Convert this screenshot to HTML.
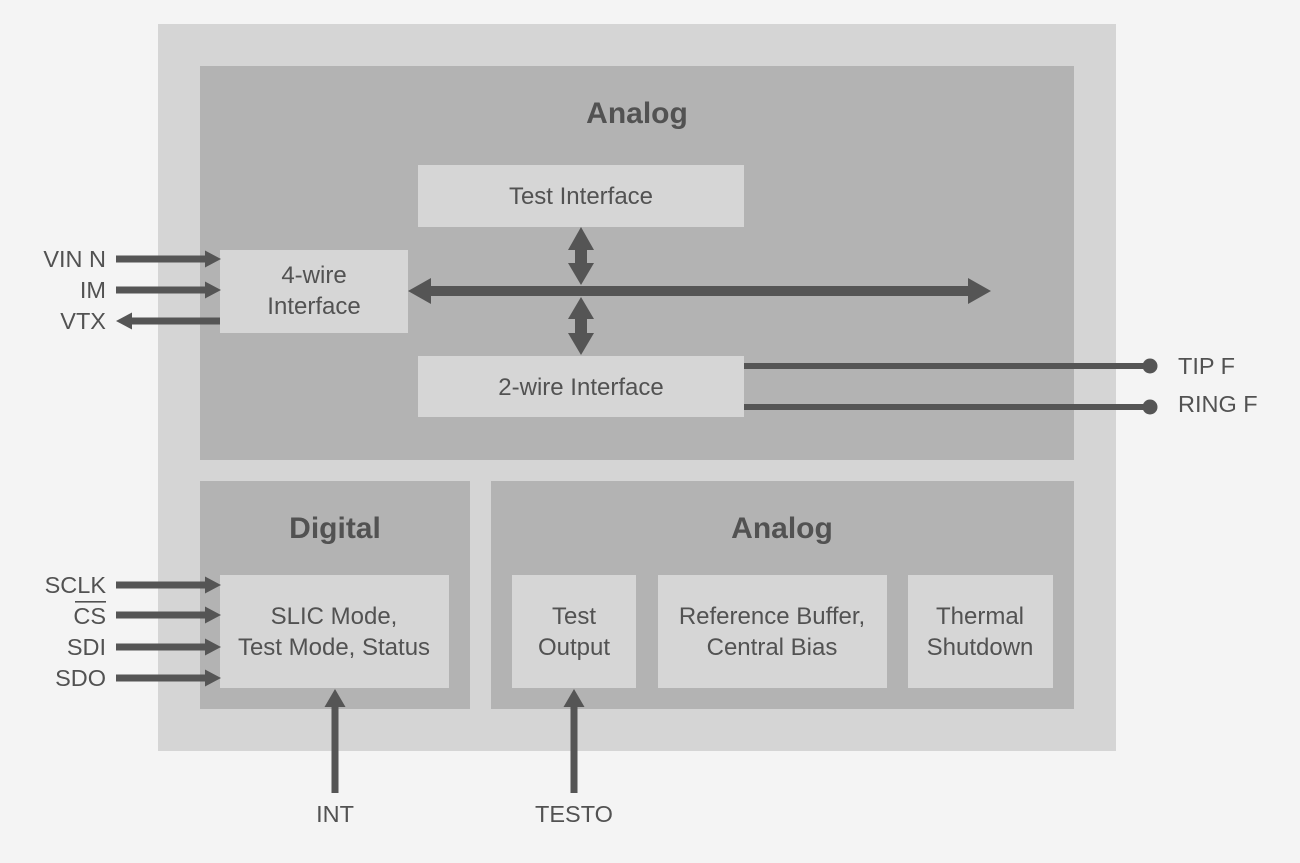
<!DOCTYPE html>
<html>
<head>
<meta charset="utf-8">
<style>
  html,body{margin:0;padding:0;background:#f4f4f4;}
  svg{display:block;}
  text{font-family:"Liberation Sans", Arial, sans-serif;fill:#525252;}
  .lbl{font-size:23.5px;}
  .box{font-size:24px;}
  .hd{font-size:30px;font-weight:bold;}
</style>
</head>
<body>
<svg width="1300" height="863" viewBox="0 0 1300 863" xmlns="http://www.w3.org/2000/svg">
  <rect x="0" y="0" width="1300" height="863" fill="#f4f4f4"/>
  <!-- outer -->
  <rect x="158" y="24" width="958" height="727" fill="#d5d5d5"/>
  <!-- analog top -->
  <rect x="200" y="66" width="874" height="394" fill="#b3b3b3"/>
  <!-- digital -->
  <rect x="200" y="481" width="270" height="228" fill="#b3b3b3"/>
  <!-- analog bottom -->
  <rect x="491" y="481" width="583" height="228" fill="#b3b3b3"/>

  <!-- inner boxes -->
  <rect x="418" y="165" width="326" height="62" fill="#d6d6d6"/>
  <rect x="220" y="250" width="188" height="83" fill="#d6d6d6"/>
  <rect x="418" y="356" width="326" height="61" fill="#d6d6d6"/>
  <rect x="220" y="575" width="229" height="113" fill="#d6d6d6"/>
  <rect x="512" y="575" width="124" height="113" fill="#d6d6d6"/>
  <rect x="658" y="575" width="229" height="113" fill="#d6d6d6"/>
  <rect x="908" y="575" width="145" height="113" fill="#d6d6d6"/>

  <!-- headings -->
  <text class="hd" x="637" y="123" text-anchor="middle">Analog</text>
  <text class="hd" x="335" y="538" text-anchor="middle">Digital</text>
  <text class="hd" x="782" y="538" text-anchor="middle">Analog</text>

  <!-- box labels -->
  <text class="box" x="581" y="204" text-anchor="middle">Test Interface</text>
  <text class="box" x="314" y="283" text-anchor="middle">4-wire</text>
  <text class="box" x="314" y="314" text-anchor="middle">Interface</text>
  <text class="box" x="581" y="395" text-anchor="middle">2-wire Interface</text>
  <text class="box" x="334" y="624" text-anchor="middle">SLIC Mode,</text>
  <text class="box" x="334" y="655" text-anchor="middle">Test Mode, Status</text>
  <text class="box" x="574" y="624" text-anchor="middle">Test</text>
  <text class="box" x="574" y="655" text-anchor="middle">Output</text>
  <text class="box" x="772" y="624" text-anchor="middle">Reference Buffer,</text>
  <text class="box" x="772" y="655" text-anchor="middle">Central Bias</text>
  <text class="box" x="980" y="624" text-anchor="middle">Thermal</text>
  <text class="box" x="980" y="655" text-anchor="middle">Shutdown</text>

  <!-- outside labels -->
  <text class="lbl" x="106" y="267" text-anchor="end">VIN N</text>
  <text class="lbl" x="106" y="298" text-anchor="end">IM</text>
  <text class="lbl" x="106" y="329" text-anchor="end">VTX</text>
  <text class="lbl" x="106" y="593" text-anchor="end">SCLK</text>
  <text class="lbl" x="106" y="624" text-anchor="end">CS</text>
  <rect x="75" y="601" width="31" height="1.6" fill="#525252"/>
  <text class="lbl" x="106" y="655" text-anchor="end">SDI</text>
  <text class="lbl" x="106" y="686" text-anchor="end">SDO</text>
  <text class="lbl" x="335" y="822" text-anchor="middle">INT</text>
  <text class="lbl" x="574" y="822" text-anchor="middle">TESTO</text>
  <text class="lbl" x="1178" y="374">TIP F</text>
  <text class="lbl" x="1178" y="412">RING F</text>

  <g fill="#555555">
    <!-- left input arrows -->
    <rect x="116" y="255.5" width="90" height="7"/>
    <polygon points="205,250.5 221,259 205,267.5"/>
    <rect x="116" y="286.5" width="90" height="7"/>
    <polygon points="205,281.5 221,290 205,298.5"/>
    <!-- VTX out -->
    <rect x="131" y="317.5" width="89" height="7"/>
    <polygon points="132,312.5 116,321 132,329.5"/>

    <!-- SPI arrows -->
    <rect x="116" y="581.5" width="90" height="7"/>
    <polygon points="205,576.5 221,585 205,593.5"/>
    <rect x="116" y="611.5" width="90" height="7"/>
    <polygon points="205,606.5 221,615 205,623.5"/>
    <rect x="116" y="643.5" width="90" height="7"/>
    <polygon points="205,638.5 221,647 205,655.5"/>
    <rect x="116" y="674.5" width="90" height="7"/>
    <polygon points="205,669.5 221,678 205,686.5"/>

    <!-- INT / TESTO -->
    <rect x="331.5" y="706" width="7" height="87"/>
    <polygon points="324.5,707 335,689 345.5,707"/>
    <rect x="570.5" y="706" width="7" height="87"/>
    <polygon points="563.5,707 574,689 584.5,707"/>

    <!-- main horizontal bidirectional -->
    <rect x="430" y="286" width="539" height="10"/>
    <polygon points="431,278 408,291 431,304"/>
    <polygon points="968,278 991,291 968,304"/>

    <!-- upper vertical bidir -->
    <rect x="575" y="249" width="12" height="15"/>
    <polygon points="568,250 581,227 594,250"/>
    <polygon points="568,263 581,285 594,263"/>
    <!-- lower vertical bidir -->
    <rect x="575" y="318" width="12" height="16"/>
    <polygon points="568,319 581,297 594,319"/>
    <polygon points="568,333 581,355 594,333"/>

    <!-- TIP / RING -->
    <rect x="744" y="363" width="406" height="6"/>
    <circle cx="1150" cy="366" r="7.5"/>
    <rect x="744" y="404" width="406" height="6"/>
    <circle cx="1150" cy="407" r="7.5"/>
  </g>
</svg>
</body>
</html>
